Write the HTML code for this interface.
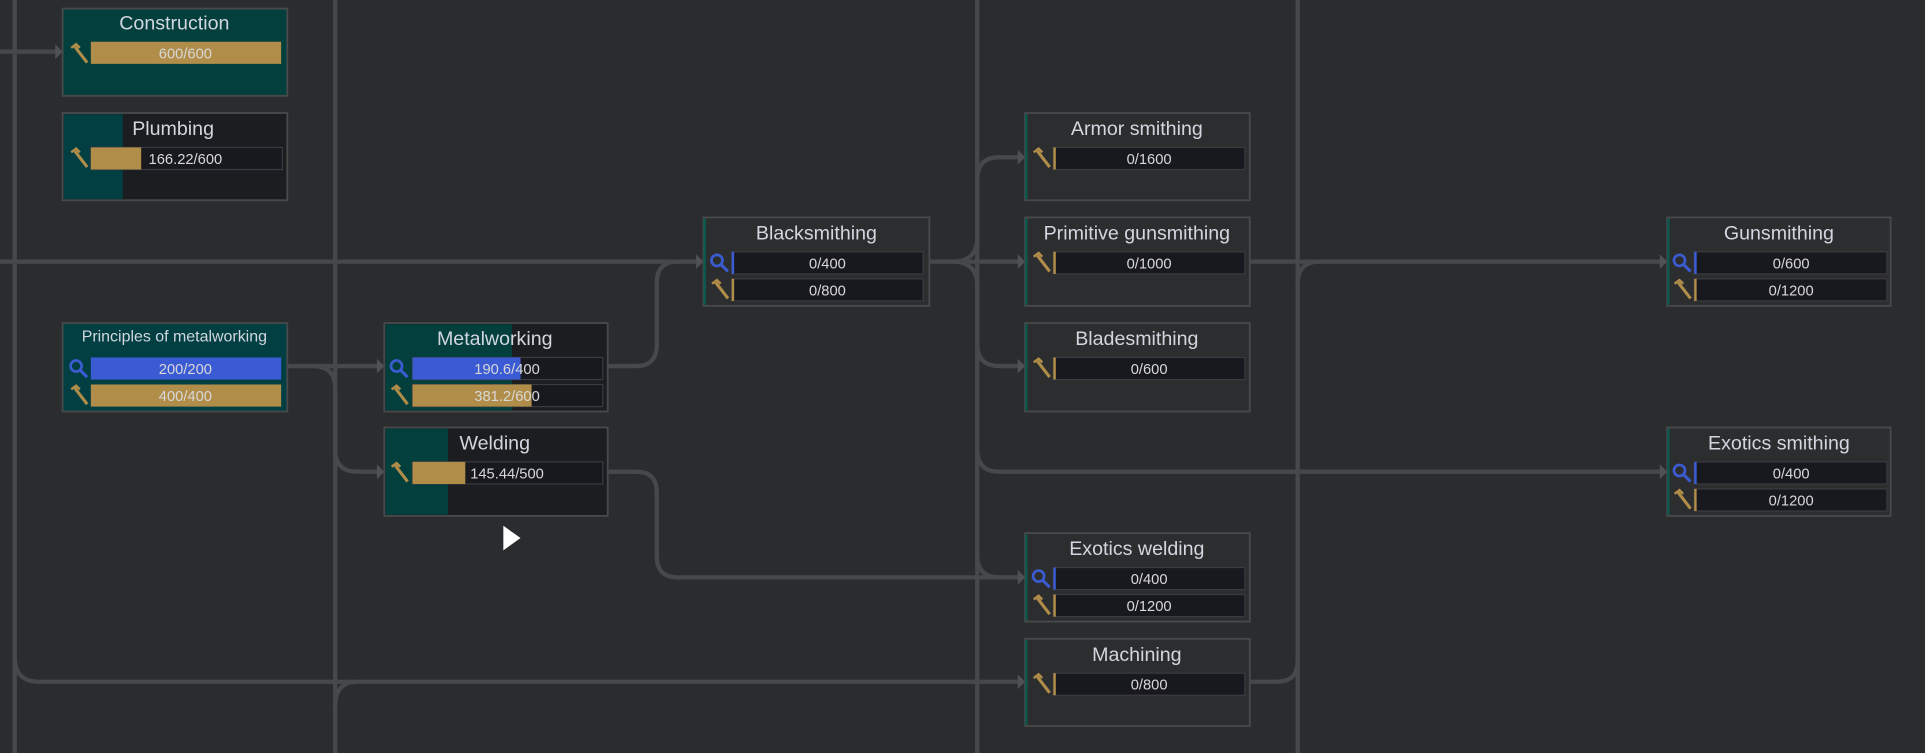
<!DOCTYPE html>
<html><head><meta charset="utf-8"><style>
html,body{margin:0;padding:0;background:#2a2c2e;overflow:hidden}
svg{display:block}
text{font-family:"Liberation Sans","DejaVu Sans",sans-serif}
.t{fill:#d2d6de;font-size:16px;text-anchor:middle}
.b{fill:#d8d8d8;font-size:12px;text-anchor:middle}
.ln{stroke:#474849;stroke-width:3.5;fill:none}
.ar{fill:#505152}
.box{stroke:#47494a;stroke-width:1.5}
.bar{fill:#18191e;stroke:#3a3b40;stroke-width:1}
</style></head><body>
<svg width="1925" height="753" viewBox="0 0 1568 613" preserveAspectRatio="none" xmlns="http://www.w3.org/2000/svg">
<defs>
<g id="ham"><path d="M2 3 L6 0 L9 3" stroke="#b08d48" stroke-width="2" fill="none"/><path d="M5 2 L15 15" stroke="#b08d48" stroke-width="2.5"/></g>
<g id="mag"><circle cx="6" cy="6" r="4.5" stroke="#3b5bd0" stroke-width="2.2" fill="none"/><path d="M9 9 L15 15" stroke="#3b5bd0" stroke-width="2.5"/></g>
</defs>
<rect width="1568" height="613" fill="#2a2c2e"/>
<!-- grid / connectors -->
<g class="ln">
<path d="M12 0 V613"/><path d="M273 0 V613"/><path d="M796 0 V613"/><path d="M1057 0 V613"/>
<path d="M0 42 H46"/>
<path d="M0 213 H568"/>
<path d="M12 535 Q12 555 32 555 H830"/>
<path d="M291 555 Q273 555 273 575"/>
<path d="M233 298 H308"/>
<path d="M255 298 Q273 298 273 316 V366 Q273 384 291 384 H308"/>
<path d="M495 298 H518 Q535 298 535 281 V230 Q535 213 552 213"/>
<path d="M757 213 H830"/>
<path d="M776 213 Q796 213 796 193 V146 Q796 128 814 128 H830"/>
<path d="M776 213 Q796 213 796 233 V280 Q796 298 814 298 H830"/>
<path d="M796 366 Q796 384 814 384 H1353"/>
<path d="M796 452 Q796 470 814 470 H830"/>
<path d="M495 384 H518 Q535 384 535 401 V453 Q535 470 552 470 H830"/>
<path d="M1018 213 H1353"/>
<path d="M1018 555 H1040 Q1057 555 1057 538"/>
<path d="M1057 231 Q1057 213 1075 213"/>
</g>
<g class="ar">
<polygon points="45,36 51,42 45,48"/>
<polygon points="567,207 573,213 567,219"/>
<polygon points="307,292 313,298 307,304"/>
<polygon points="307,378 313,384 307,390"/>
<polygon points="829,122 835,128 829,134"/>
<polygon points="829,207 835,213 829,219"/>
<polygon points="829,292 835,298 829,304"/>
<polygon points="829,464 835,470 829,476"/>
<polygon points="829,549 835,555 829,561"/>
<polygon points="1352,207 1358,213 1352,219"/>
<polygon points="1352,378 1358,384 1352,390"/>
</g>

<!-- Construction -->
<rect x="51" y="7" width="183" height="71" fill="#023f3d" class="box"/>
<text x="142" y="24" class="t">Construction</text>
<use href="#ham" x="56" y="36"/>
<rect x="74" y="34" width="155" height="18" fill="#b08d48"/>
<text x="151" y="47.5" class="b">600/600</text>

<!-- Plumbing -->
<rect x="51" y="92" width="183" height="71" fill="#1c1d20" class="box"/>
<rect x="52" y="93" width="48" height="69" fill="#023f43"/>
<text x="141" y="110" class="t">Plumbing</text>
<use href="#ham" x="56" y="121"/>
<rect x="74" y="120" width="156" height="18" class="bar"/>
<rect x="74" y="120" width="41" height="18" fill="#b08d48"/>
<text x="151" y="133.5" class="b">166.22/600</text>

<!-- Principles -->
<rect x="51" y="263" width="183" height="72" fill="#023f43" class="box"/>
<text x="142" y="278" class="t" style="font-size:13px">Principles of metalworking</text>
<use href="#mag" x="56" y="292"/>
<rect x="74" y="291" width="155" height="18" fill="#3a5bd4"/>
<text x="151" y="304.5" class="b">200/200</text>
<use href="#ham" x="56" y="314"/>
<rect x="74" y="313" width="155" height="18" fill="#b08d48"/>
<text x="151" y="326.5" class="b">400/400</text>

<!-- Metalworking -->
<rect x="313" y="263" width="182" height="72" fill="#1c1d20" class="box"/>
<rect x="314" y="264" width="103" height="70" fill="#023f3d"/>
<text x="403" y="281" class="t">Metalworking</text>
<use href="#mag" x="317" y="292"/>
<rect x="336" y="291" width="155" height="18" class="bar"/>
<rect x="336" y="291" width="88" height="18" fill="#3a5bd4"/>
<text x="413" y="304.5" class="b">190.6/400</text>
<use href="#ham" x="317" y="314"/>
<rect x="336" y="313" width="155" height="18" class="bar"/>
<rect x="336" y="313" width="97" height="18" fill="#b08d48"/>
<text x="413" y="326.5" class="b">381.2/600</text>

<!-- Welding -->
<rect x="313" y="348" width="182" height="72" fill="#1c1d20" class="box"/>
<rect x="314" y="349" width="51" height="70" fill="#023f3d"/>
<text x="403" y="366" class="t">Welding</text>
<use href="#ham" x="317" y="377"/>
<rect x="336" y="376" width="155" height="18" class="bar"/>
<rect x="336" y="376" width="43" height="18" fill="#b08d48"/>
<text x="413" y="389.5" class="b">145.44/500</text>

<!-- generic nodes -->
<g>
<rect x="573" y="177" width="184" height="72" fill="#2c2d2f" class="box"/><rect x="573" y="178" width="2" height="70" fill="#0b5a50"/>
<text x="665" y="195" class="t">Blacksmithing</text>
<use href="#mag" x="578" y="206"/><rect x="596" y="205" width="156" height="18" class="bar"/><rect x="596" y="205" width="2" height="18" fill="#3a5bd4"/><text x="674" y="218.5" class="b">0/400</text>
<use href="#ham" x="578" y="228"/><rect x="596" y="227" width="156" height="18" class="bar"/><rect x="596" y="227" width="2" height="18" fill="#b08d48"/><text x="674" y="240.5" class="b">0/800</text>
</g>
<g>
<rect x="835" y="92" width="183" height="71" fill="#2c2d2f" class="box"/><rect x="835" y="93" width="2" height="69" fill="#0b5a50"/>
<text x="926" y="110" class="t">Armor smithing</text>
<use href="#ham" x="840" y="121"/><rect x="858" y="120" width="156" height="18" class="bar"/><rect x="858" y="120" width="2" height="18" fill="#b08d48"/><text x="936" y="133.5" class="b">0/1600</text>
</g>
<g>
<rect x="835" y="177" width="183" height="72" fill="#2c2d2f" class="box"/><rect x="835" y="178" width="2" height="70" fill="#0b5a50"/>
<text x="926" y="195" class="t">Primitive gunsmithing</text>
<use href="#ham" x="840" y="206"/><rect x="858" y="205" width="156" height="18" class="bar"/><rect x="858" y="205" width="2" height="18" fill="#b08d48"/><text x="936" y="218.5" class="b">0/1000</text>
</g>
<g>
<rect x="835" y="263" width="183" height="72" fill="#2c2d2f" class="box"/><rect x="835" y="264" width="2" height="70" fill="#0b5a50"/>
<text x="926" y="281" class="t">Bladesmithing</text>
<use href="#ham" x="840" y="292"/><rect x="858" y="291" width="156" height="18" class="bar"/><rect x="858" y="291" width="2" height="18" fill="#b08d48"/><text x="936" y="304.5" class="b">0/600</text>
</g>
<g>
<rect x="835" y="434" width="183" height="72" fill="#2c2d2f" class="box"/><rect x="835" y="435" width="2" height="70" fill="#0b5a50"/>
<text x="926" y="452" class="t">Exotics welding</text>
<use href="#mag" x="840" y="463"/><rect x="858" y="462" width="156" height="18" class="bar"/><rect x="858" y="462" width="2" height="18" fill="#3a5bd4"/><text x="936" y="475.5" class="b">0/400</text>
<use href="#ham" x="840" y="485"/><rect x="858" y="484" width="156" height="18" class="bar"/><rect x="858" y="484" width="2" height="18" fill="#b08d48"/><text x="936" y="497.5" class="b">0/1200</text>
</g>
<g>
<rect x="835" y="520" width="183" height="71" fill="#2c2d2f" class="box"/><rect x="835" y="521" width="2" height="69" fill="#0b5a50"/>
<text x="926" y="538" class="t">Machining</text>
<use href="#ham" x="840" y="549"/><rect x="858" y="548" width="156" height="18" class="bar"/><rect x="858" y="548" width="2" height="18" fill="#b08d48"/><text x="936" y="561.5" class="b">0/800</text>
</g>
<g>
<rect x="1358" y="177" width="182" height="72" fill="#2c2d2f" class="box"/><rect x="1358" y="178" width="2" height="70" fill="#0b5a50"/>
<text x="1449" y="195" class="t">Gunsmithing</text>
<use href="#mag" x="1362" y="206"/><rect x="1380" y="205" width="157" height="18" class="bar"/><rect x="1380" y="205" width="2" height="18" fill="#3a5bd4"/><text x="1459" y="218.5" class="b">0/600</text>
<use href="#ham" x="1362" y="228"/><rect x="1380" y="227" width="157" height="18" class="bar"/><rect x="1380" y="227" width="2" height="18" fill="#b08d48"/><text x="1459" y="240.5" class="b">0/1200</text>
</g>
<g>
<rect x="1358" y="348" width="182" height="72" fill="#2c2d2f" class="box"/><rect x="1358" y="349" width="2" height="70" fill="#0b5a50"/>
<text x="1449" y="366" class="t">Exotics smithing</text>
<use href="#mag" x="1362" y="377"/><rect x="1380" y="376" width="157" height="18" class="bar"/><rect x="1380" y="376" width="2" height="18" fill="#3a5bd4"/><text x="1459" y="389.5" class="b">0/400</text>
<use href="#ham" x="1362" y="399"/><rect x="1380" y="398" width="157" height="18" class="bar"/><rect x="1380" y="398" width="2" height="18" fill="#b08d48"/><text x="1459" y="411.5" class="b">0/1200</text>
</g>
<!-- cursor -->
<polygon points="410,428 410,448 424,438" fill="#ffffff"/>
</svg>
</body></html>
